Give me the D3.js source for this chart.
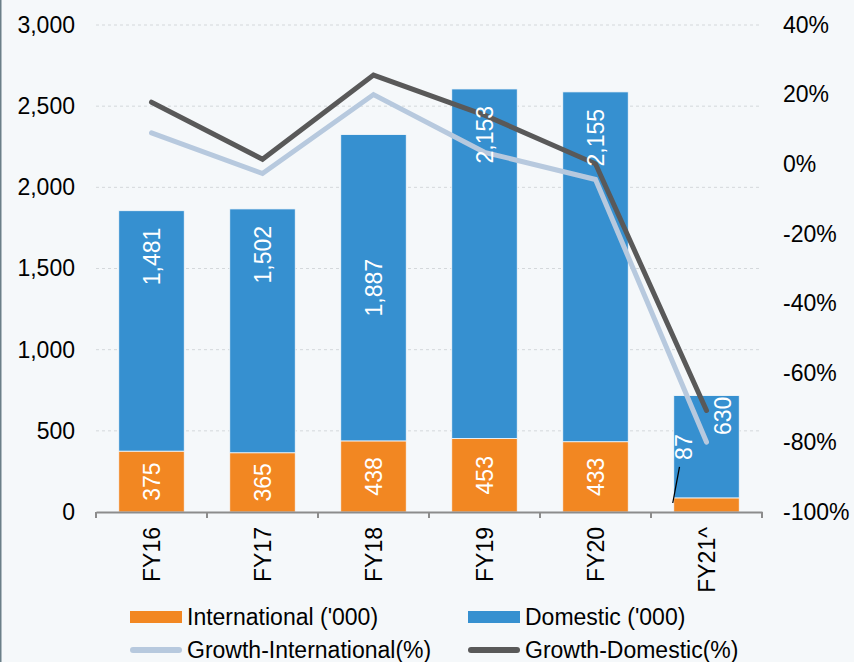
<!DOCTYPE html>
<html>
<head>
<meta charset="utf-8">
<script src="https://cdn.jsdelivr.net/npm/d3@7"></script>
<style>
    body { margin: 0; background: #f5f8fa; }
    svg { display: block; font-family: Arial, "Liberation Sans", sans-serif; }
    .tick text { font-size: 23px; fill: #000; }
</style>
</head>
<body>
<div id="wrapper"></div>
<script>
// data
var years = ['FY16', 'FY17', 'FY18', 'FY19', 'FY20', 'FY21^'];
var international = [375, 365, 438, 453, 433, 87];
var domestic = [1481, 1502, 1887, 2153, 2155, 630];
var growth_international = [9.0, -2.7, 20.0, 3.4, -4.4, -79.9];
var growth_domestic = [17.8, 1.4, 25.6, 14.1, 0.1, -70.8];
var left_ticks = [0, 500, 1000, 1500, 2000, 2500, 3000];
var right_ticks = [-100, -80, -60, -40, -20, 0, 20, 40];
// where Excel put the domestic labels
var domestic_label_pos = ['end', 'end', 'center', 'end', 'end', 'top'];

var WIDTH = 854, HEIGHT = 662;
var MARGIN = {left: 96, right: 92, top: 25, bottom: 150};
var DRAW_WIDTH = WIDTH - MARGIN.left - MARGIN.right;
var DRAW_HEIGHT = HEIGHT - MARGIN.top - MARGIN.bottom;

var ORANGE = '#f28722', BLUE = '#3690d0';
var LIGHT_LINE = '#b7c9de', DARK_LINE = '#595959';

var svg = d3.select('#wrapper').append('svg')
    .attr('width', WIDTH)
    .attr('height', HEIGHT);

svg.append('line')
    .attr('x1', 0.75).attr('x2', 0.75)
    .attr('y1', 0).attr('y2', HEIGHT)
    .attr('stroke', '#6b7f88')
    .attr('stroke-width', 1.5);

var g = svg.append('g')
    .attr('transform', 'translate(' + MARGIN.left + ',' + MARGIN.top + ')');

var scale_x = d3.scaleBand()
    .domain(years)
    .range([0, DRAW_WIDTH])
    .paddingInner(0.41)
    .paddingOuter(0.205);
var scale_y = d3.scaleLinear().domain([0, 3000]).range([DRAW_HEIGHT, 0]);
var scale_y2 = d3.scaleLinear().domain([-100, 40]).range([DRAW_HEIGHT, 0]);

// gridlines
g.append('g')
    .selectAll('line')
    .data(left_ticks.filter(function(d) { return d > 0; }))
    .enter().append('line')
    .attr('x1', 0).attr('x2', DRAW_WIDTH)
    .attr('y1', function(d) { return scale_y(d); })
    .attr('y2', function(d) { return scale_y(d); })
    .attr('stroke', '#d4d8db')
    .attr('stroke-width', 1)
    .attr('stroke-dasharray', '3,3');

// left axis
var axis_left = d3.axisLeft(scale_y)
    .tickValues(left_ticks)
    .tickSize(0)
    .tickPadding(21)
    .tickFormat(d3.format(','));
g.append('g').call(axis_left).call(function(s) { s.select('.domain').remove(); });

// right axis
var axis_right = d3.axisRight(scale_y2)
    .tickValues(right_ticks)
    .tickSize(0)
    .tickPadding(21)
    .tickFormat(function(d) { return d + '%'; });
g.append('g')
    .attr('transform', 'translate(' + DRAW_WIDTH + ',0)')
    .call(axis_right)
    .call(function(s) { s.select('.domain').remove(); });

// bars
var bars = g.append('g').selectAll('g')
    .data(years)
    .enter().append('g');

bars.append('rect')
    .attr('x', function(d) { return scale_x(d); })
    .attr('width', scale_x.bandwidth())
    .attr('y', function(d, i) { return scale_y(international[i]); })
    .attr('height', function(d, i) { return DRAW_HEIGHT - scale_y(international[i]); })
    .attr('fill', ORANGE)
    .attr('stroke', '#f7f9fb')
    .attr('stroke-width', 0.8);

bars.append('rect')
    .attr('x', function(d) { return scale_x(d); })
    .attr('width', scale_x.bandwidth())
    .attr('y', function(d, i) { return scale_y(international[i] + domestic[i]); })
    .attr('height', function(d, i) { return scale_y(international[i]) - scale_y(international[i] + domestic[i]); })
    .attr('fill', BLUE)
    .attr('stroke', '#f7f9fb')
    .attr('stroke-width', 0.8);

// growth lines
var line_x = function(d, i) { return scale_x(years[i]) + scale_x.bandwidth() / 2; };
var growth_line = d3.line().x(line_x).y(function(d) { return scale_y2(d); });

g.append('path')
    .datum(growth_international)
    .attr('d', growth_line)
    .attr('fill', 'none')
    .attr('stroke', LIGHT_LINE)
    .attr('stroke-width', 5)
    .attr('stroke-linecap', 'round');
g.append('path')
    .datum(growth_domestic)
    .attr('d', growth_line)
    .attr('fill', 'none')
    .attr('stroke', DARK_LINE)
    .attr('stroke-width', 5)
    .attr('stroke-linecap', 'round');

// labels
var label = function(x, y, txt, anchor) {
    g.append('text')
        .attr('transform', 'translate(' + x + ',' + y + ') rotate(-90)')
        .attr('text-anchor', anchor)
        .attr('dy', '0.35em')
        .attr('fill', '#fff')
        .style('font-size', '23px')
        .text(txt);
};
var fmt = d3.format(',');
years.forEach(function(d, i) {
    var cx = scale_x(d) + scale_x.bandwidth() / 2;
    var top = scale_y(international[i] + domestic[i]);
    var mid_int = scale_y(international[i]);
    if (domestic_label_pos[i] === 'center') {
        label(cx, (top + mid_int) / 2, fmt(domestic[i]), 'middle');
    } else if (domestic_label_pos[i] === 'top') {
        // nudged right, out of the way of the lines
        label(cx + 16, top + 1, fmt(domestic[i]), 'end');
    } else {
        label(cx, top + 17, fmt(domestic[i]), 'end');
    }
    if (international[i] > 150) {
        label(cx, (mid_int + DRAW_HEIGHT) / 2, fmt(international[i]), 'middle');
    } else {
        // small value sits outside with a leader line
        var lx = cx - 23;
        label(lx, mid_int - 38, fmt(international[i]), 'start');
        g.append('line')
            .attr('x1', scale_x(d) - 1).attr('y1', DRAW_HEIGHT - 9)
            .attr('x2', lx - 4).attr('y2', mid_int - 31)
            .attr('stroke', '#000')
            .attr('stroke-width', 1.3);
    }
});

// x axis
var axis_x = d3.axisBottom(scale_x).tickSize(0).tickPadding(0);
var gx = g.append('g')
    .attr('transform', 'translate(0,' + DRAW_HEIGHT + ')')
    .call(axis_x);
gx.select('.domain').attr('stroke', '#8c8c8c').attr('stroke-width', 2);
gx.selectAll('.tick text')
    .attr('transform', 'rotate(-90)')
    .attr('text-anchor', 'end')
    .attr('x', -15)
    .attr('y', 0)
    .attr('dy', '0.35em');
var step = scale_x.step();
gx.selectAll('.boundary')
    .data(d3.range(years.length + 1))
    .enter().append('line')
    .attr('x1', function(d) { return d * step; })
    .attr('x2', function(d) { return d * step; })
    .attr('y1', 0).attr('y2', 6)
    .attr('stroke', '#8c8c8c')
    .attr('stroke-width', 2);

// legend
var legend_items = [
    {name: "International ('000)", color: ORANGE, type: 'rect'},
    {name: "Domestic ('000)", color: BLUE, type: 'rect'},
    {name: 'Growth-International(%)', color: LIGHT_LINE, type: 'line'},
    {name: 'Growth-Domestic(%)', color: DARK_LINE, type: 'line'}
];
var legend = svg.append('g');
legend_items.forEach(function(d, i) {
    var x = 130 + (i % 2) * 338;
    var y = 617 + Math.floor(i / 2) * 33;
    if (d.type === 'rect') {
        legend.append('rect')
            .attr('x', x).attr('y', y - 6)
            .attr('width', 52).attr('height', 12)
            .attr('fill', d.color);
    } else {
        legend.append('line')
            .attr('x1', x + 3).attr('x2', x + 49)
            .attr('y1', y).attr('y2', y)
            .attr('stroke', d.color)
            .attr('stroke-width', 6)
            .attr('stroke-linecap', 'round');
    }
    legend.append('text')
        .attr('x', x + 57).attr('y', y)
        .attr('dy', '0.35em')
        .style('font-size', '23px')
        .text(d.name);
});
</script>
</body>
</html>
